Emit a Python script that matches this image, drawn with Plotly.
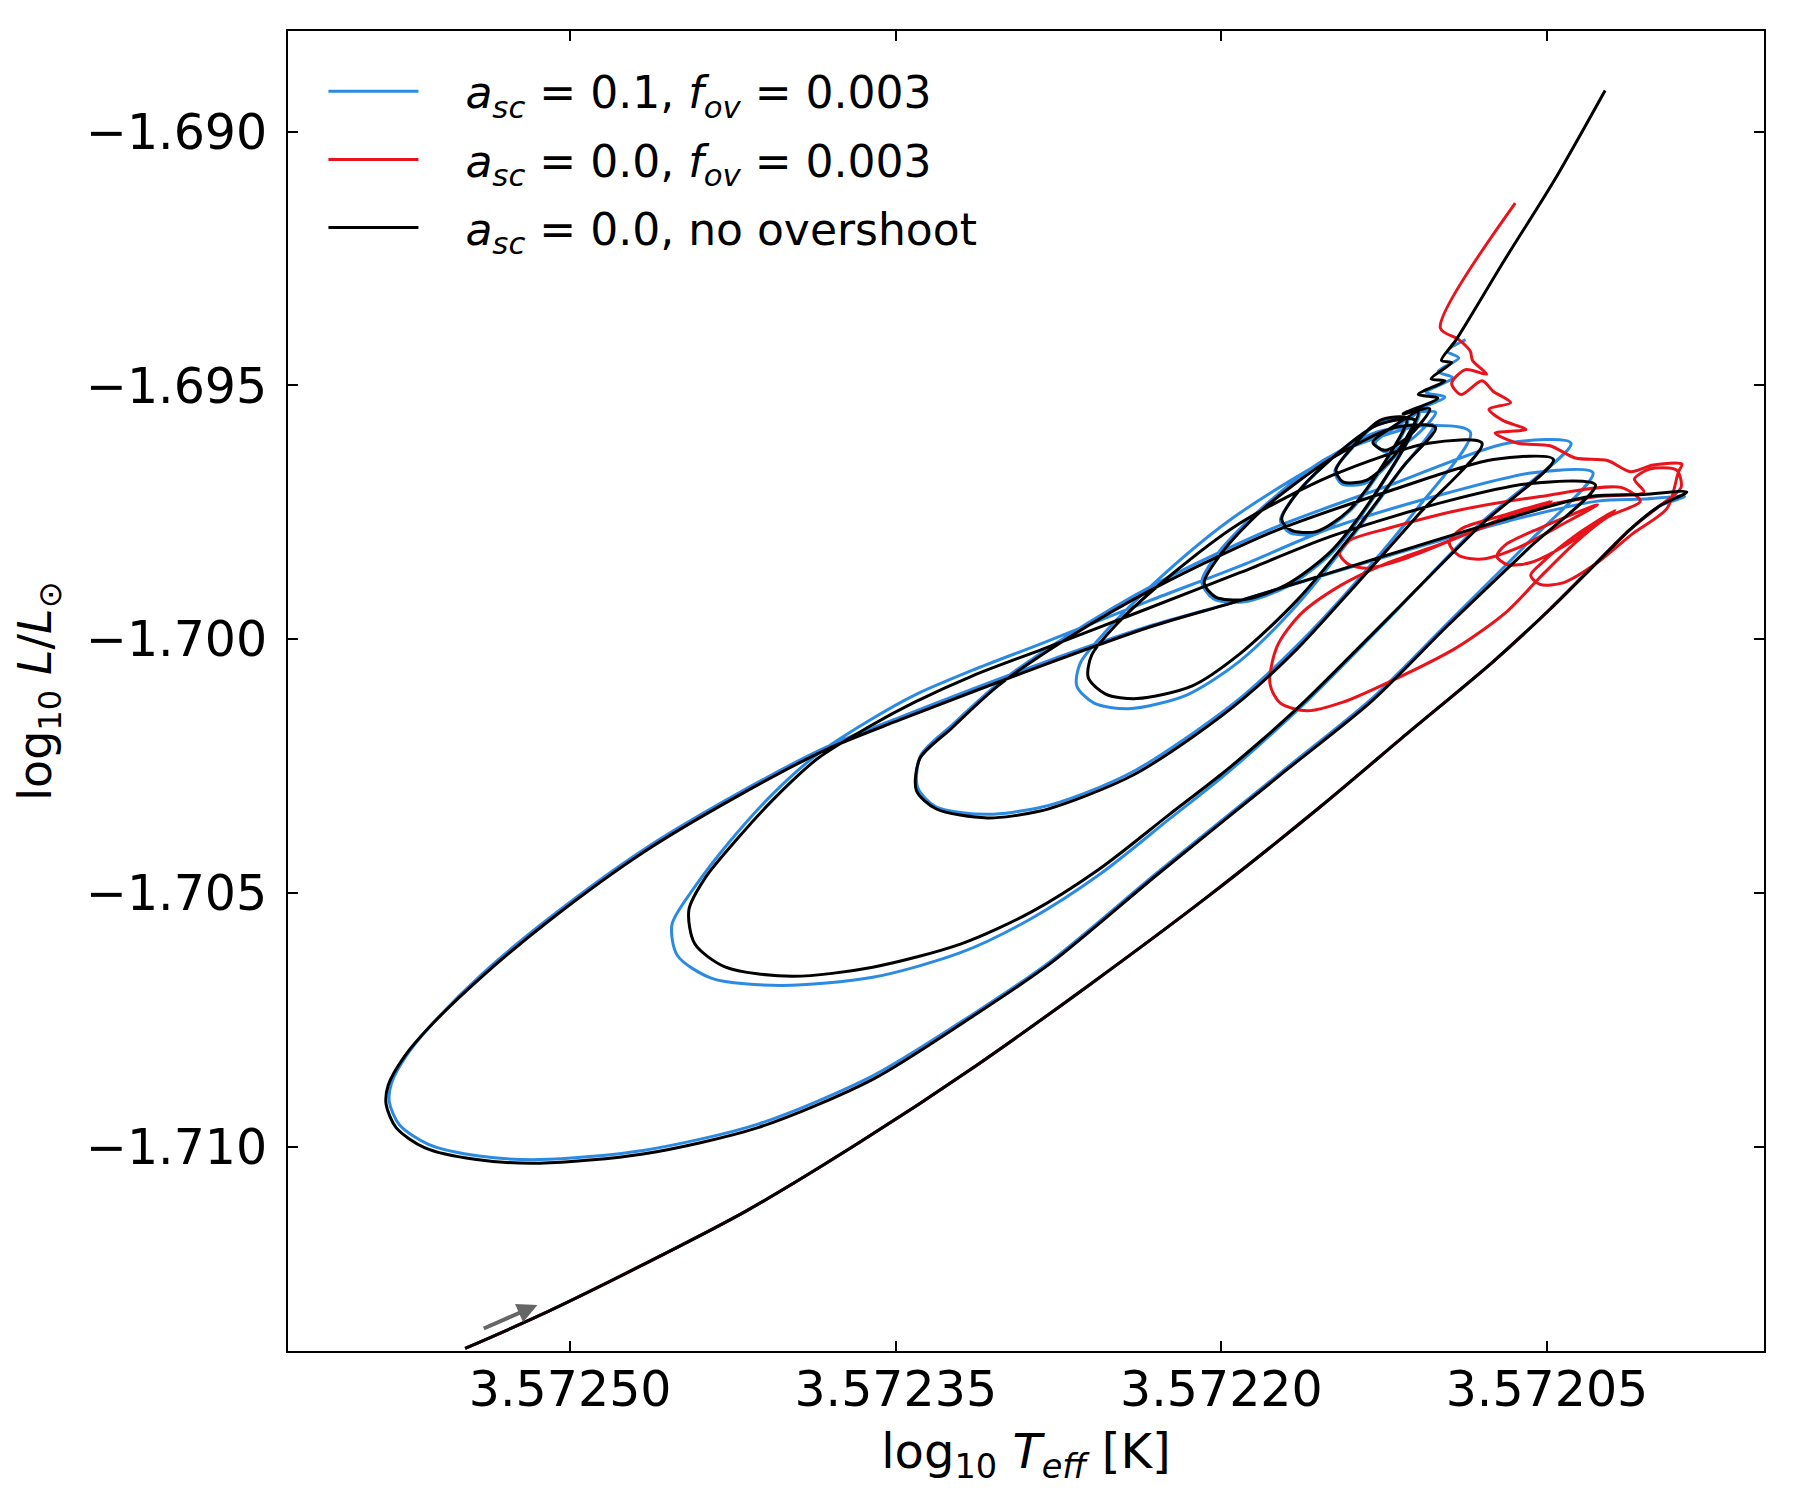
import numpy as np
import plotly.graph_objects as go

# offsets:
# dlogt in micro-dex above 3.572, dlogl in 1e-5 dex relative to -1.69
black_dlogt = [548.4, 514.1, 466.4, 418.8, 365.9, 313.0, 260.2, 207.2, 154.4, 114.7, 75.0, 48.6, 27.5, 11.5, -1.7,
               -14.4, 5.3, 30.4,
               69.4, 122.6, 191.5, 233.0, 282.6, 348.2, 381.8, 424.1, 466.4, 508.7, 540.5, 564.2, 576.4, 583.8,
               584.8, 580.2, 566.9, 543.1, 514.1, 466.4, 413.5, 360.6,
               314.6, 278.9, 229.3, 170.1, 130.7, 95.9, 58.7, 27.7,
               58.7,
               95.9, 149.3, 191.5, 233.0, 282.6, 314.6, 341.3, 362.6, 386.0, 405.6, 423.0, 437.8, 445.3, 442.6,
               428.4,
               397.6, 360.6, 319.9, 287.9, 256.0, 223.9, 200.0, 181.4, 162.0, 122.6, 79.9, 47.0,
               74.7,
               122.6, 176.0, 229.3, 271.9, 302.9, 324.2, 338.9, 340.5, 331.5, 307.8,
               284.0, 262.8, 239.5, 213.4, 189.9, 165.3, 138.7, 109.3, 79.9,
               104.6,
               149.3, 192.0, 223.9, 247.9, 259.7, 261.3, 253.3, 239.0, 213.4, 191.5, 165.3, 138.7, 116.3, 101.3,
               120.0,
               149.3, 181.4, 200.0, 207.9, 202.6, 189.3, 170.6, 149.3, 128.0, 110.9,
               128.0, 152.0, 166.4, 172.2, 168.0, 156.3, 141.2, 125.3, 114.6,
               126.9, 139.6, 147.2, 144.0, 133.3, 120.0, 109.3,
               121.6, 130.2, 124.7, 113.1, 104.0, 116.3, 100.2, 109.3, 97.0, 103.4, 93.9, 98.6, 91.8,
               69.8, 47.0, 23.2]
black_dlogl = [-2397, -2332, -2232, -2126, -1989, -1840, -1679, -1510, -1330, -1187, -1045, -941, -851, -783, -738,
               -710, -715, -719,
               -764, -833, -924, -976, -1052, -1159, -1217, -1312, -1420, -1551, -1664, -1761, -1822, -1878,
               -1916, -1962, -2002, -2025, -2032, -2014, -1962, -1867,
               -1743, -1639, -1463, -1258, -1122, -974, -822, -696,
               -694,
               -728, -797, -869, -938, -1020, -1072, -1124, -1173, -1235, -1312, -1393, -1470, -1533, -1600,
               -1646,
               -1664, -1646, -1600, -1538, -1452, -1345, -1266, -1199, -1124, -956, -773, -646,
               -646,
               -708, -788, -896, -1001, -1092, -1175, -1235, -1298, -1334, -1352,
               -1339, -1309, -1265, -1193, -1117, -1020, -896, -755, -614,
               -614,
               -678, -773, -876, -969, -1031, -1076, -1108, -1117, -1092, -1029, -924, -788, -660, -583,
               -583,
               -644, -746, -831, -889, -917, -922, -894, -826, -706, -569,
               -578, -655, -719, -764, -785, -788, -746, -655, -565,
               -569, -621, -667, -690, -687, -637, -553,
               -583, -612, -628, -598, -546, -556, -525, -518, -491, -487, -455, -451, -410,
               -255, -99, 81]

blue_dlogt = [548.4, 514.1, 466.4, 418.8, 365.9, 313.0, 260.2, 207.2, 154.4, 114.7, 75.0, 48.6, 27.5, 11.5, -1.7,
              -13.4, 5.3, 26.7,
              69.4, 122.6, 191.5, 233.0, 282.6, 348.2, 381.8, 424.1, 466.4, 508.7, 540.5, 563.2, 574.9, 582.3,
              583.3, 578.6, 565.3, 542.0, 514.1, 466.4, 413.5, 360.6,
              314.6, 278.9, 229.3, 170.1, 130.7, 95.9, 58.7, 28.8,
              56.5,
              95.9, 149.3, 191.5, 233.0, 282.6, 314.6, 341.3, 362.6, 386.0, 407.2, 426.2, 442.6, 453.1, 450.6,
              434.7,
              402.9, 360.6, 319.9, 287.9, 256.0, 223.9, 200.0, 181.4, 162.0, 122.6, 79.9, 38.9,
              68.3,
              122.6, 176.0, 229.3, 271.9, 302.9, 323.8, 338.4, 340.0, 331.5, 307.8,
              284.0, 262.8, 239.5, 213.4, 189.9, 165.3, 138.7, 111.0, 85.3,
              125.8,
              160.0, 197.3, 229.3, 253.3, 265.0, 266.6, 258.6, 242.7, 216.0, 191.5, 165.3, 138.7, 117.4, 102.4,
              149.3, 181.4, 201.1, 209.0, 203.7, 189.3, 169.6, 148.2, 126.9, 110.9,
              128.0, 152.0, 166.4, 172.8, 168.5, 156.3, 140.9, 124.7, 114.1,
              126.9, 139.6, 147.7, 144.5, 133.3, 119.4, 108.8,
              120.0, 129.1, 123.7, 110.9, 101.3, 110.9, 97.0, 105.6, 93.4, 100.2, 90.6, 95.9, 87.5]
blue_dlogl = [-2397, -2332, -2232, -2126, -1989, -1840, -1679, -1510, -1330, -1187, -1045, -941, -851, -783, -738,
              -719, -724, -728,
              -769, -835, -924, -974, -1047, -1154, -1212, -1307, -1415, -1546, -1659, -1756, -1817, -1874,
              -1912, -1957, -1995, -2018, -2025, -2007, -1955, -1860,
              -1739, -1635, -1459, -1254, -1117, -969, -810, -672,
              -672,
              -712, -781, -856, -924, -1008, -1061, -1110, -1161, -1226, -1307, -1397, -1488, -1562, -1623,
              -1668,
              -1682, -1666, -1617, -1551, -1463, -1354, -1273, -1204, -1128, -958, -769, -614,
              -614,
              -697, -781, -889, -996, -1088, -1168, -1228, -1291, -1330, -1345,
              -1332, -1303, -1258, -1186, -1111, -1013, -891, -749, -592,
              -589,
              -667, -769, -883, -985, -1047, -1092, -1126, -1137, -1110, -1043, -933, -792, -667, -578,
              -639, -742, -828, -887, -920, -926, -896, -826, -701, -569,
              -578, -655, -719, -766, -790, -792, -748, -655, -565,
              -571, -623, -669, -694, -692, -637, -556,
              -583, -614, -632, -601, -553, -551, -523, -514, -485, -473, -446, -433, -410]

red_dlogt = [548.4, 514.1, 466.4, 418.8, 365.9, 313.0, 260.2, 207.2, 154.4, 114.7, 75.0, 48.6, 27.5, 11.5, -1.7,
             -11.8, -9.7, 2.7, 9.7, 5.3,
             26.7, 53.2, 99.1, 125.3, 145.0, 163.6, 174.4, 177.6, 172.8, 160.4, 144.0, 122.1, 91.8, 68.3, 53.2,
             37.8, 22.4, 7.0,
             15.9, 53.2, 90.6, 122.6, 141.2, 145.6, 141.2, 132.3, 114.6, 90.6, 69.4, 48.0,
             69.4, 89.6, 95.0, 90.6, 79.9, 62.9, 42.6, 26.7,
             53.2, 69.4, 73.1, 68.3, 57.5, 37.3, 18.6,
             37.3, 52.2, 57.5, 53.2, 42.6, 26.7, 10.5, -5.4,
             -10.6, -12.2, 1.0, 11.5, 22.1, 36.9, 48.6, 63.4, 73.9,
             59.7, 70.4, 76.7, 66.7, 74.7, 79.9, 89.6, 93.9, 87.5, 77.8, 84.3, 85.3, 90.6, 99.1, 64.6]
red_dlogl = [-2397, -2332, -2232, -2126, -1989, -1840, -1679, -1510, -1330, -1187, -1045, -941, -851, -783, -738,
             -701, -667, -665, -685, -710,
             -719, -739, -813, -853, -894, -951, -1015, -1088, -1126, -1141, -1124, -1083, -1017, -945, -878,
             -813, -760, -728,
             -701, -719, -746, -781, -806, -831, -853, -860, -840, -799, -760, -728,
             -755, -783, -810, -835, -842, -819, -773, -735,
             -781, -815, -837, -853, -849, -804, -746,
             -797, -849, -874, -892, -889, -849, -792, -742,
             -670, -655, -657, -670, -648, -643, -619, -614, -594,
             -587, -569, -547, -534, -512, -491, -518, -496, -469, -478, -451, -433, -410, -387, -141]

labels = ["\u00a0\u00a0\u00a0<i>a</i><sub><i>sc</i></sub> = 0.1, <i>f</i><sub><i>ov</i></sub> = 0.003",
          "\u00a0\u00a0\u00a0<i>a</i><sub><i>sc</i></sub> = 0.0, <i>f</i><sub><i>ov</i></sub> = 0.003",
          "\u00a0\u00a0\u00a0<i>a</i><sub><i>sc</i></sub> = 0.0, no overshoot"]
colors = ["#2b8be3", "#e8131b", "black"]

xtick_vals = [3.57250, 3.57235, 3.57220, 3.57205]
xtick_text = ["3.57250", "3.57235", "3.57220", "3.57205"]
ytick_vals = [-1.710, -1.705, -1.700, -1.695, -1.690]
ytick_text = ["\u22121.710", "\u22121.705", "\u22121.700", "\u22121.695", "\u22121.690"]

# direction arrow near the start of the track (tail, head)
arrow_tail = (3.5725405, -1.713589)
arrow_head = (3.5725151, -1.713115)


def to_teff(d):
    return 3.572 + 1e-6 * np.array(d)


def to_lum(d):
    return -1.69 + 1e-5 * np.array(d)


fig = go.Figure()
series = [(blue_dlogt, blue_dlogl), (red_dlogt, red_dlogl), (black_dlogt, black_dlogl)]
for i, (dt, dl) in enumerate(series):
    fig.add_trace(go.Scatter(x=to_teff(dt), y=to_lum(dl), mode='lines', name=labels[i],
                             line=dict(color=colors[i], width=3, shape='spline', smoothing=0.8),
                             legendgroup=str(i)))

fig.add_annotation(x=arrow_head[0], y=arrow_head[1], ax=arrow_tail[0], ay=arrow_tail[1],
                   xref='x', yref='y', axref='x', ayref='y', text='', showarrow=True,
                   arrowhead=2, arrowsize=1.0, arrowwidth=4, arrowcolor='#666666')

axis_style = dict(showline=True, linecolor='black', linewidth=2, mirror='ticks', ticks='inside',
                  ticklen=10, tickwidth=2, tickcolor='black', showgrid=False, zeroline=False,
                  tickfont=dict(size=49, color='black'))

fig.update_xaxes(range=[3.57263, 3.57195], tickvals=xtick_vals, ticktext=xtick_text,
                 ticklabelstandoff=-6,
                 title=dict(text="log<sub>10</sub> <i>T</i><sub><i>eff</i></sub> [K]", font=dict(size=48),
                            standoff=18), **axis_style)
fig.update_yaxes(range=[-1.71402, -1.68802], tickvals=ytick_vals, ticktext=ytick_text,
                 ticklabelstandoff=9,
                 title=dict(text="log<sub>10</sub> <i>L</i>/<i>L</i><sub>\u2299</sub>", font=dict(size=46),
                            standoff=22), **axis_style)

# the page body adds an 8 px offset, so the figure is 8 px smaller than the window
fig.update_layout(width=1792, height=1492, plot_bgcolor='white', paper_bgcolor='white',
                  margin=dict(l=280, r=36, t=23, b=149),
                  font=dict(family='DejaVu Sans', color='black'),
                  legend=dict(x=0.024, y=0.981, xanchor='left', yanchor='top', bgcolor='rgba(0,0,0,0)',
                              font=dict(size=44), itemwidth=90, tracegroupgap=8))

fig.write_html("out.html")
